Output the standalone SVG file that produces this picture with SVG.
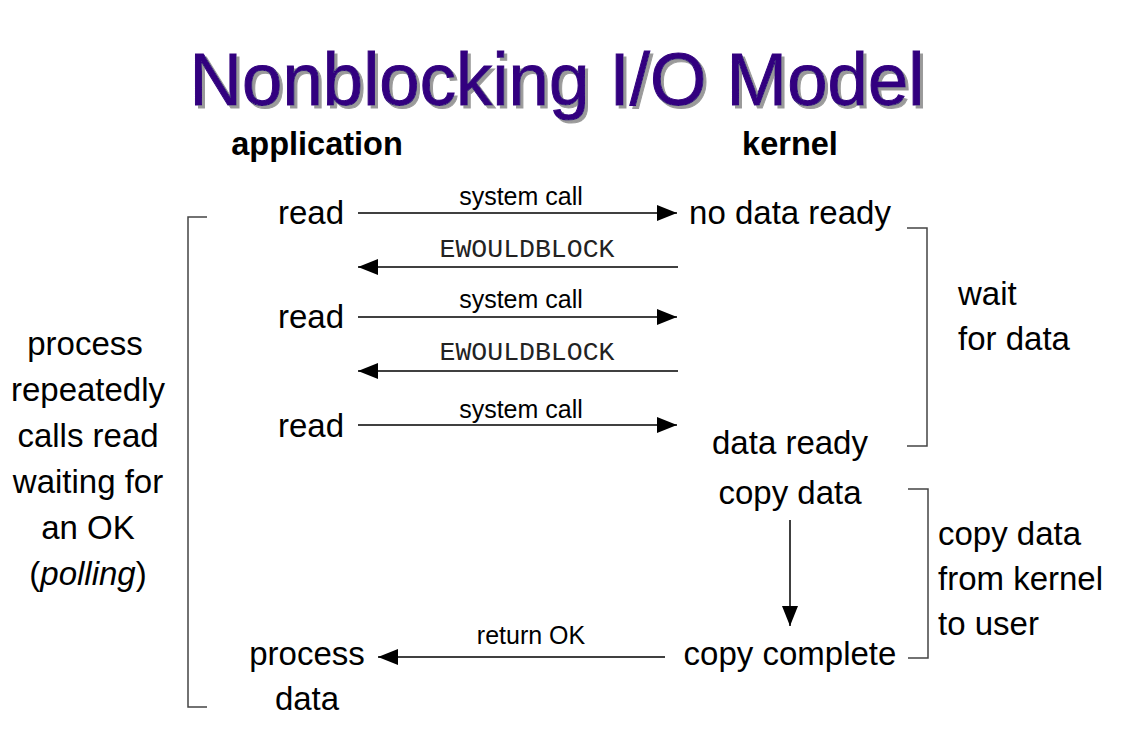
<svg xmlns="http://www.w3.org/2000/svg" width="1126" height="750" viewBox="0 0 1126 750">
<defs>
<style>
.t{font-family:"Liberation Sans",Arial,sans-serif;fill:#000}
.b{font-size:33px}
.s{font-size:25px}
.h{font-size:32.5px;font-weight:bold}
.m{font-family:"Liberation Mono","Courier New",monospace;font-size:26.5px;fill:#222}
.ttl{font-family:"Liberation Sans",Arial,sans-serif;font-size:74px;fill:#33007f;stroke:#33007f;stroke-width:1}
.ln{stroke:#000;stroke-width:1.5;fill:none}
.br{stroke:#444;stroke-width:1.5;fill:none}
</style>
<filter id="shadow" x="-5%" y="-20%" width="110%" height="140%">
<feOffset in="SourceAlpha" dx="3" dy="3" result="o"/>
<feFlood flood-color="#9a9a9a"/>
<feComposite in2="o" operator="in" result="s"/>
<feMerge><feMergeNode in="s"/><feMergeNode in="SourceGraphic"/></feMerge>
</filter>
<marker id="ah" markerUnits="userSpaceOnUse" markerWidth="22" markerHeight="18" refX="20" refY="8" orient="auto">
<path d="M0,0 L20,8 L0,16 z" fill="#000"/>
</marker>
</defs>
<rect width="1126" height="750" fill="#fff"/>
<g id="title">
<text class="ttl" x="557" y="105" text-anchor="middle" filter="url(#shadow)" textLength="735" lengthAdjust="spacingAndGlyphs">Nonblocking I/O Model</text>
</g>
<g id="hdr-application"><text class="t h" x="317" y="155" text-anchor="middle">application</text></g>
<g id="hdr-kernel"><text class="t h" x="790" y="155" text-anchor="middle">kernel</text></g>
<g id="read1"><text class="t b" x="311" y="224" text-anchor="middle">read</text></g>
<g id="read2"><text class="t b" x="311" y="328" text-anchor="middle">read</text></g>
<g id="read3"><text class="t b" x="311" y="437" text-anchor="middle">read</text></g>
<g id="no-data-ready"><text class="t b" x="790" y="224" text-anchor="middle">no data ready</text></g>
<g id="data-ready"><text class="t b" x="790" y="454" text-anchor="middle">data ready</text></g>
<g id="copy-data"><text class="t b" x="790" y="504" text-anchor="middle">copy data</text></g>
<g id="copy-complete"><text class="t b" x="790" y="665" text-anchor="middle">copy complete</text></g>
<g id="process-data">
<text class="t b" x="307" y="665" text-anchor="middle">process</text>
<text class="t b" x="307" y="710" text-anchor="middle">data</text>
</g>
<g id="wait-for-data">
<text class="t b" x="958" y="305">wait</text>
<text class="t b" x="958" y="350">for data</text>
</g>
<g id="copy-kernel-user">
<text class="t b" x="938" y="545">copy data</text>
<text class="t b" x="938" y="590">from kernel</text>
<text class="t b" x="938" y="635">to user</text>
</g>
<g id="polling-note">
<text class="t b" x="85" y="355" text-anchor="middle">process</text>
<text class="t b" x="88" y="401" text-anchor="middle">repeatedly</text>
<text class="t b" x="88" y="447" text-anchor="middle">calls read</text>
<text class="t b" x="88" y="493" text-anchor="middle">waiting for</text>
<text class="t b" x="88" y="539" text-anchor="middle">an OK</text>
<text class="t b" x="88" y="585" text-anchor="middle">(<tspan font-style="italic">polling</tspan>)</text>
</g>
<g id="brackets">
<path class="br" d="M207,217 H188 V707 H207"/>
<path class="br" d="M907,228 H927 V446 H907"/>
<path class="br" d="M908,489 H928 V658 H908"/>
</g>
<g id="connectors">
<line class="ln" x1="358" y1="213" x2="677" y2="213" marker-end="url(#ah)"/>
<text class="t s" x="521" y="205" text-anchor="middle">system call</text>
<line class="ln" x1="678" y1="267" x2="358" y2="267" marker-end="url(#ah)"/>
<text class="m" x="527" y="257" text-anchor="middle">EWOULDBLOCK</text>
<line class="ln" x1="358" y1="317" x2="677" y2="317" marker-end="url(#ah)"/>
<text class="t s" x="521" y="308" text-anchor="middle">system call</text>
<line class="ln" x1="678" y1="371" x2="358" y2="371" marker-end="url(#ah)"/>
<text class="m" x="527" y="360" text-anchor="middle">EWOULDBLOCK</text>
<line class="ln" x1="358" y1="425" x2="677" y2="425" marker-end="url(#ah)"/>
<text class="t s" x="521" y="418" text-anchor="middle">system call</text>
<line class="ln" x1="790" y1="520" x2="790" y2="626" marker-end="url(#ah)"/>
<line class="ln" x1="665" y1="657" x2="378" y2="657" marker-end="url(#ah)"/>
<text class="t s" x="531" y="644" text-anchor="middle">return OK</text>
</g>
</svg>
